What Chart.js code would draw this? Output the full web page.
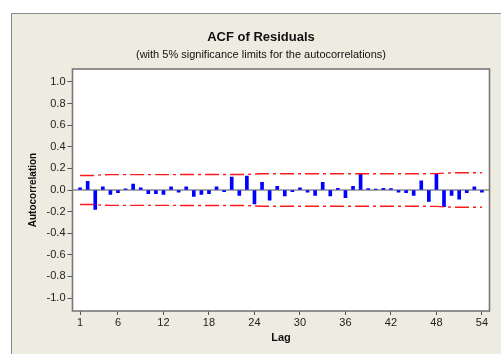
<!DOCTYPE html>
<html>
<head>
<meta charset="utf-8">
<script src="https://cdn.jsdelivr.net/npm/chart.js@4"></script>
<style>
  html, body { margin: 0; padding: 0; background: #fff; }
  canvas { display: block; }
</style>
</head>
<body>
<canvas id="grafico" width="501" height="354"></canvas>
<script>
const lags = [1, 2, 3, 4, 5, 6, 7, 8, 9, 10, 11, 12, 13, 14, 15, 16, 17, 18,
    19, 20, 21, 22, 23, 24, 25, 26, 27, 28, 29, 30, 31, 32, 33, 34, 35, 36,
    37, 38, 39, 40, 41, 42, 43, 44, 45, 46, 47, 48, 49, 50, 51, 52, 53, 54];
const acf = [0.02, 0.08, -0.18, 0.03, -0.04, -0.025, 0.01, 0.055, 0.02, -0.035,
    -0.035, -0.04, 0.03, -0.02, 0.03, -0.06, -0.04, -0.035, 0.03, -0.015,
    0.12, -0.05, 0.13, -0.13, 0.07, -0.095, 0.035, -0.055, -0.015, 0.02,
    -0.02, -0.05, 0.07, -0.055, 0.015, -0.07, 0.035, 0.155, 0.012, 0.008,
    0.015, 0.012, -0.02, -0.025, -0.05, 0.085, -0.105, 0.15, -0.155, -0.05,
    -0.085, -0.025, 0.03, -0.02];
const upperLimit = [0.134, 0.134, 0.135, 0.141, 0.142, 0.142, 0.142, 0.142, 0.142, 0.142,
    0.142, 0.142, 0.142, 0.143, 0.143, 0.143, 0.143, 0.143, 0.143, 0.143,
    0.143, 0.143, 0.144, 0.148, 0.150, 0.150, 0.150, 0.150, 0.150, 0.150,
    0.150, 0.150, 0.150, 0.150, 0.150, 0.150, 0.150, 0.150, 0.150, 0.150,
    0.150, 0.150, 0.150, 0.150, 0.150, 0.150, 0.151, 0.152, 0.156, 0.159,
    0.159, 0.159, 0.159, 0.159];
const lowerLimit = [-0.134, -0.134, -0.135, -0.141, -0.142, -0.142, -0.142, -0.142, -0.142, -0.142,
    -0.142, -0.142, -0.142, -0.143, -0.143, -0.143, -0.143, -0.143, -0.143, -0.143,
    -0.143, -0.143, -0.144, -0.148, -0.150, -0.150, -0.150, -0.150, -0.150, -0.150,
    -0.150, -0.150, -0.150, -0.150, -0.150, -0.150, -0.150, -0.150, -0.150, -0.150,
    -0.150, -0.150, -0.150, -0.150, -0.150, -0.150, -0.151, -0.152, -0.156, -0.159,
    -0.159, -0.159, -0.159, -0.159];
const xTicks = [1, 6, 12, 18, 24, 30, 36, 42, 48, 54];
const yTicks = [-1.0, -0.8, -0.6, -0.4, -0.2, 0.0, 0.2, 0.4, 0.6, 0.8, 1.0];

const FONT = "'Liberation Sans', Arial, sans-serif";

// fundo bege, moldura e linha do zero
const moldura = {
    id: 'moldura',
    beforeDraw(chart) {
        const c = chart.ctx, a = chart.chartArea;
        c.save();
        c.fillStyle = '#ffffff';
        c.fillRect(0, 0, chart.width, chart.height);
        c.fillStyle = '#eeebe1';
        c.fillRect(11, 13, chart.width - 11, chart.height - 13);
        c.strokeStyle = '#8a8a8a';
        c.lineWidth = 1;
        c.beginPath();
        c.moveTo(11.5, chart.height);
        c.lineTo(11.5, 13.5);
        c.lineTo(chart.width, 13.5);
        c.stroke();
        c.fillStyle = '#ffffff';
        c.fillRect(a.left, a.top, a.right - a.left, a.bottom - a.top);
        c.restore();
    },
    beforeDatasetsDraw(chart) {
        const c = chart.ctx, a = chart.chartArea;
        const y0 = chart.scales.y.getPixelForValue(0);
        c.save();
        c.strokeStyle = '#8c8c8c';
        c.lineWidth = 1.5;
        c.beginPath();
        c.moveTo(a.left, y0);
        c.lineTo(a.right, y0);
        c.stroke();
        c.restore();
    },
    afterDatasetsDraw(chart) {
        const c = chart.ctx, a = chart.chartArea;
        c.save();
        c.strokeStyle = '#777777';
        c.lineWidth = 1.6;
        c.strokeRect(a.left, a.top, a.right - a.left, a.bottom - a.top);
        c.restore();
    }
};

new Chart(document.getElementById('grafico'), {
    type: 'bar',
    data: {
        datasets: [{
            type: 'line',
            data: lags.map((l, i) => ({x: l, y: upperLimit[i]})),
            borderColor: '#ff1a1a',
            borderWidth: 1.4,
            borderDash: [14, 4, 3, 4],
            pointRadius: 0,
            tension: 0
        }, {
            type: 'line',
            data: lags.map((l, i) => ({x: l, y: lowerLimit[i]})),
            borderColor: '#ff1a1a',
            borderWidth: 1.4,
            borderDash: [14, 4, 3, 4],
            pointRadius: 0,
            tension: 0
        }, {
            data: lags.map((l, i) => ({x: l, y: acf[i]})),
            backgroundColor: '#0000ff',
            barThickness: 3
        }]
    },
    options: {
        responsive: false,
        animation: false,
        devicePixelRatio: 1,
        layout: {
            padding: {left: 21, top: 30, right: 0, bottom: 0}
        },
        plugins: {
            legend: {display: false},
            tooltip: {enabled: false},
            title: {
                display: true,
                text: 'ACF of Residuals',
                color: '#111',
                font: {family: FONT, size: 13, weight: 'bold'},
                padding: {top: 0, bottom: 3}
            },
            subtitle: {
                display: true,
                text: '(with 5% significance limits for the autocorrelations)',
                color: '#111',
                font: {family: FONT, size: 11},
                padding: {top: 0, bottom: 7.2}
            }
        },
        scales: {
            x: {
                type: 'linear',
                min: 0,
                max: 55,
                offset: false,
                afterFit: s => { s.height = 43; },
                afterBuildTicks: s => { s.ticks = xTicks.map(v => ({value: v})); },
                grid: {drawOnChartArea: false, offset: false, tickLength: 4, color: '#555'},
                border: {display: false},
                ticks: {color: '#222', padding: 1, autoSkip: false, maxRotation: 0,
                    font: {family: FONT, size: 11}},
                title: {display: true, text: 'Lag', color: '#111',
                    font: {family: FONT, size: 11, weight: 'bold'},
                    padding: {top: 0, bottom: 9.4}}
            },
            y: {
                min: -1.12,
                max: 1.12,
                afterFit: s => { s.width = 51.5; },
                afterBuildTicks: s => { s.ticks = yTicks.map(v => ({value: v})); },
                grid: {drawOnChartArea: false, tickLength: 5, color: '#555'},
                border: {display: false},
                ticks: {color: '#222', padding: 2, autoSkip: false,
                    font: {family: FONT, size: 11},
                    callback: v => Number(v).toFixed(1)},
                title: {display: true, text: 'Autocorrelation', color: '#111',
                    font: {family: FONT, size: 10, weight: 'bold'},
                    padding: {top: 6, bottom: 0}}
            },
            y2: {
                position: 'right',
                display: true,
                afterFit: s => { s.width = 11.5; },
                grid: {display: false},
                border: {display: false},
                ticks: {display: false}
            }
        }
    },
    plugins: [moldura]
});
</script>
</body>
</html>
